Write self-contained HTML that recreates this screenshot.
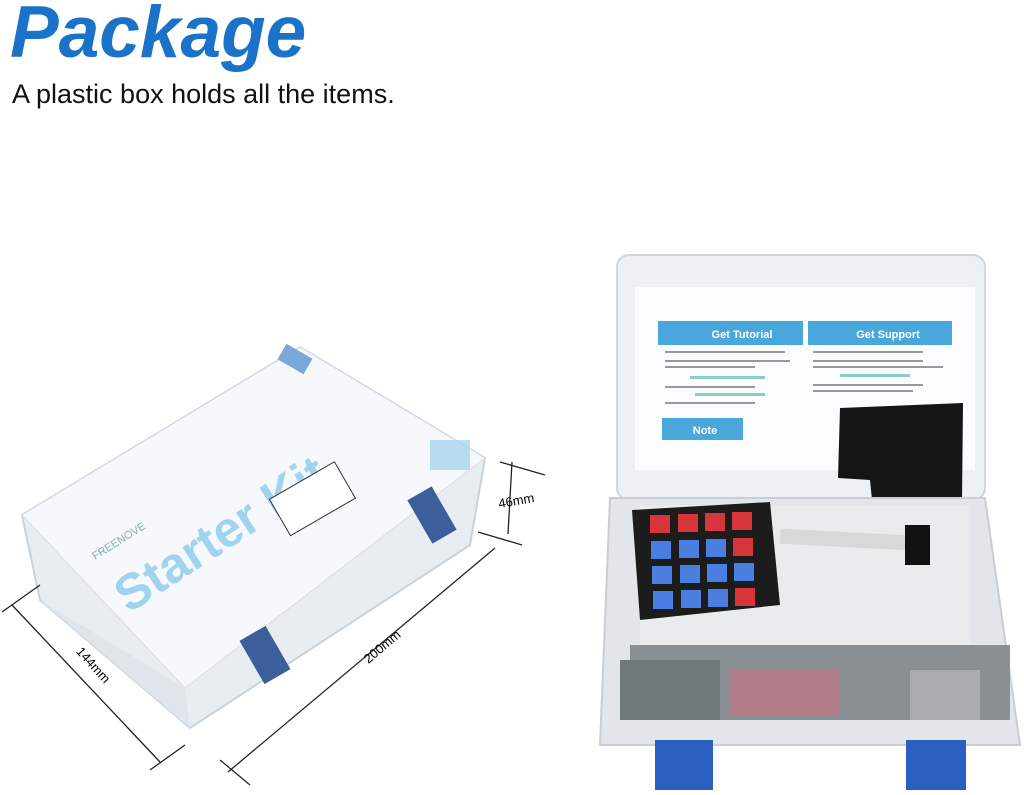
<!DOCTYPE html>
<html><head><meta charset="utf-8"><style>
html,body{margin:0;padding:0;background:#fff;width:1024px;height:795px;overflow:hidden;font-family:"Liberation Sans",sans-serif}
.t{position:absolute;left:10px;top:-9px;font-size:73px;font-weight:bold;font-style:italic;color:#1a73c8}
.s{position:absolute;left:12px;top:79px;font-size:27px;color:#111}
svg{position:absolute;left:0;top:0}
</style></head><body>
<div class="t">Package</div>
<div class="s">A plastic box holds all the items.</div>
<svg width="1024" height="795" xmlns="http://www.w3.org/2000/svg" font-family="Liberation Sans, sans-serif">
<!-- left box -->
<polygon points="22,515 300,347 485,458 470,545 190,728 40,600" fill="#e8edf2" stroke="#c8d2dc" stroke-width="2"/>
<polygon points="22,515 300,347 485,458 185,688" fill="#f6f8fb" stroke="#d5dde5"/>
<polygon points="40,600 185,688 190,728" fill="#dfe5eb"/>
<rect x="280" y="350" width="30" height="18" fill="#7aa8d8" transform="rotate(30 295 359)"/>
<rect x="430" y="440" width="40" height="30" fill="#a8d4ee" opacity=".8"/>
<rect x="418" y="490" width="28" height="50" fill="#3a5f9a" transform="rotate(-30 432 515)"/>
<rect x="250" y="630" width="30" height="50" fill="#3a5f9a" transform="rotate(-30 265 655)"/>
<text x="230" y="548" font-size="50" font-weight="bold" fill="#9fd3ee" transform="rotate(-33 230 548)" text-anchor="middle">Starter Kit</text>
<rect x="275" y="478" width="75" height="42" fill="#fff" stroke="#333" transform="rotate(-30 312 499)"/>
<text x="95" y="560" font-size="11" fill="#8ab" transform="rotate(-32 95 560)">FREENOVE</text>
<!-- dimension lines -->
<g stroke="#222" stroke-width="1.3" fill="none">
<line x1="12" y1="605" x2="160" y2="762"/><line x1="2" y1="612" x2="40" y2="585"/><line x1="150" y1="770" x2="185" y2="745"/>
<line x1="228" y1="772" x2="495" y2="548"/><line x1="220" y1="760" x2="250" y2="785"/><line x1="478" y1="532" x2="522" y2="545"/>
<line x1="512" y1="462" x2="508" y2="534"/><line x1="500" y1="462" x2="545" y2="475"/>
</g>
<text x="90" y="668" font-size="13" transform="rotate(48 90 668)" text-anchor="middle">144mm</text>
<text x="385" y="650" font-size="13" transform="rotate(-40 385 650)" text-anchor="middle">200mm</text>
<text x="517" y="505" font-size="13" transform="rotate(-10 517 505)" text-anchor="middle">46mm</text>
<!-- right box lid -->
<rect x="617" y="255" width="368" height="245" rx="12" fill="#eef1f4" stroke="#d0d6dc" stroke-width="2"/>
<rect x="635" y="287" width="340" height="183" fill="#fbfcfd"/>
<rect x="658" y="321" width="145" height="24" fill="#4aa7dc"/>
<rect x="808" y="321" width="144" height="24" fill="#4aa7dc"/>
<text x="742" y="338" font-size="11" font-weight="bold" fill="#fff" text-anchor="middle">Get Tutorial</text>
<text x="888" y="338" font-size="11" font-weight="bold" fill="#fff" text-anchor="middle">Get Support</text>
<g fill="#999"><rect x="665" y="351" width="120" height="2"/><rect x="665" y="360" width="125" height="2"/><rect x="665" y="366" width="90" height="2"/><rect x="690" y="376" width="75" height="3" fill="#8cc"/><rect x="665" y="386" width="90" height="2"/><rect x="695" y="393" width="70" height="3" fill="#8cc"/><rect x="665" y="402" width="90" height="2"/>
<rect x="813" y="351" width="110" height="2"/><rect x="813" y="360" width="110" height="2"/><rect x="813" y="366" width="130" height="2"/><rect x="840" y="374" width="70" height="3" fill="#8cc"/><rect x="813" y="384" width="110" height="2"/><rect x="813" y="390" width="100" height="2"/></g>
<rect x="662" y="418" width="81" height="22" fill="#4aa7dc"/>
<text x="705" y="434" font-size="11" font-weight="bold" fill="#fff" text-anchor="middle">Note</text>
<polygon points="840,408 963,403 962,500 872,500 870,480 838,478" fill="#151515"/>
<!-- base -->
<polygon points="610,498 985,498 1020,745 600,745" fill="#e2e6ea" stroke="#c8ced4" stroke-width="2"/>
<rect x="640" y="505" width="330" height="140" fill="#e9ebed"/>
<rect x="630" y="645" width="380" height="75" fill="#8a8f93"/>
<rect x="620" y="660" width="100" height="60" fill="#6f7a78"/>
<rect x="730" y="670" width="110" height="45" fill="#c87080" opacity=".6"/>
<rect x="910" y="670" width="70" height="50" fill="#a8acb0"/>
<polygon points="632,510 770,502 780,605 640,620" fill="#1c1c1c"/>
<g>
<rect x="650" y="515" width="20" height="18" fill="#d8343c"/><rect x="678" y="514" width="20" height="18" fill="#d8343c"/><rect x="705" y="513" width="20" height="18" fill="#d8343c"/><rect x="732" y="512" width="20" height="18" fill="#d8343c"/>
<rect x="651" y="541" width="20" height="18" fill="#4a7ee0"/><rect x="679" y="540" width="20" height="18" fill="#4a7ee0"/><rect x="706" y="539" width="20" height="18" fill="#4a7ee0"/><rect x="733" y="538" width="20" height="18" fill="#d8343c"/>
<rect x="652" y="566" width="20" height="18" fill="#4a7ee0"/><rect x="680" y="565" width="20" height="18" fill="#4a7ee0"/><rect x="707" y="564" width="20" height="18" fill="#4a7ee0"/><rect x="734" y="563" width="20" height="18" fill="#4a7ee0"/>
<rect x="653" y="591" width="20" height="18" fill="#4a7ee0"/><rect x="681" y="590" width="20" height="18" fill="#4a7ee0"/><rect x="708" y="589" width="20" height="18" fill="#4a7ee0"/><rect x="735" y="588" width="20" height="18" fill="#d8343c"/>
</g>
<rect x="780" y="532" width="130" height="15" fill="#d8d8d8" transform="rotate(3 845 540)"/>
<rect x="905" y="525" width="25" height="40" fill="#111"/>
<rect x="655" y="740" width="58" height="50" fill="#2a5fc0"/>
<rect x="906" y="740" width="60" height="50" fill="#2a5fc0"/>
</svg>
</body></html>
